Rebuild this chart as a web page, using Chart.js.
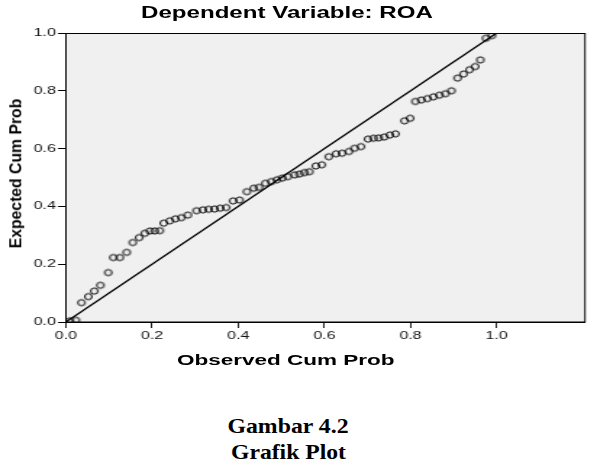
<!DOCTYPE html>
<html>
<head>
<meta charset="utf-8">
<script src="https://cdn.jsdelivr.net/npm/chart.js@4.4.1/dist/chart.umd.min.js"></script>
<style>
    body { margin: 0; background: #fff; }
    #wrap { position: relative; width: 597px; height: 476px; overflow: hidden; background: #fff; }
    #stretch { position: absolute; left: 0; top: 0; width: 412px; height: 390px; transform-origin: 0 0; }
    .lbl { position: absolute; white-space: nowrap; line-height: 1; color: #000; transform-origin: 50% 50%; }
    .sans { font-family: 'Liberation Sans', Arial, sans-serif; font-weight: bold; }
    .serif { font-family: 'Liberation Serif', 'Times New Roman', serif; font-weight: bold; }
</style>
</head>
<body>
<div id="wrap">
    <div id="stretch"><canvas id="ppChart" width="412" height="390" style="width:412px;height:390px"></canvas></div>
    <div class="lbl sans" id="chartTitle" style="font-size:16.5px">Dependent Variable: ROA</div>
    <div class="lbl sans" id="xTitle" style="font-size:14px">Observed Cum Prob</div>
    <div class="lbl sans" id="yTitle" style="font-size:17px">Expected Cum Prob</div>
    <div class="lbl serif" id="caption1" style="font-size:22px">Gambar 4.2</div>
    <div class="lbl serif" id="caption2" style="font-size:22px">Grafik Plot</div>
</div>
<script>
// values
const observedCumProb = [0.009, 0.023, 0.036, 0.052, 0.066, 0.080, 0.098, 0.110, 0.125, 0.141,
    0.155, 0.170, 0.183, 0.195, 0.206, 0.218, 0.227, 0.241, 0.254, 0.268,
    0.283, 0.303, 0.318, 0.331, 0.345, 0.358, 0.372, 0.388, 0.403, 0.420,
    0.436, 0.448, 0.463, 0.477, 0.490, 0.502, 0.515, 0.531, 0.542, 0.554,
    0.565, 0.580, 0.594, 0.610, 0.627, 0.641, 0.657, 0.670, 0.685, 0.701,
    0.714, 0.726, 0.739, 0.752, 0.765, 0.786, 0.799, 0.811, 0.825, 0.839,
    0.853, 0.867, 0.881, 0.895, 0.909, 0.923, 0.937, 0.950, 0.962, 0.975, 0.989];
const expectedCumProb = [0.004, 0.006, 0.067, 0.088, 0.107, 0.127, 0.171, 0.223, 0.223, 0.241,
    0.275, 0.292, 0.307, 0.315, 0.315, 0.316, 0.342, 0.350, 0.357, 0.361,
    0.370, 0.385, 0.388, 0.390, 0.391, 0.394, 0.396, 0.419, 0.422, 0.451,
    0.463, 0.466, 0.480, 0.486, 0.492, 0.498, 0.503, 0.509, 0.512, 0.517,
    0.520, 0.540, 0.544, 0.572, 0.582, 0.584, 0.590, 0.601, 0.607, 0.633,
    0.636, 0.637, 0.640, 0.647, 0.651, 0.696, 0.705, 0.763, 0.768, 0.773,
    0.779, 0.785, 0.790, 0.800, 0.844, 0.858, 0.873, 0.884, 0.907, 0.982, 0.991];
const diagonalX = [0, 1];
const diagonalY = [0, 1];
const xTicks = [0, 0.2, 0.4, 0.6, 0.8, 1.0];
const yTicks = [0, 0.2, 0.4, 0.6, 0.8, 1.0];

// the source picture is stretched sideways, so the canvas is too
const STRETCH = 597 / 412;
document.getElementById('stretch').style.transform = 'scaleX(' + STRETCH + ')';

// open circle that ends up roughly round after the stretch
function ringImage() {
    const c = document.createElement('canvas');
    c.width = 8;
    c.height = 10;
    const g = c.getContext('2d');
    g.strokeStyle = '#000';
    g.lineWidth = 1.0;
    g.beginPath();
    g.ellipse(4, 5, 2.45, 3.15, 0, 0, Math.PI * 2);
    g.stroke();
    return c;
}

const plotFrame = {
    id: 'plotFrame',
    beforeDatasetsDraw(chart) {
        const a = chart.chartArea;
        const ctx = chart.ctx;
        ctx.save();
        ctx.fillStyle = '#f0f0f0';
        ctx.fillRect(a.left, a.top, a.right - a.left, a.bottom - a.top);
        ctx.restore();
    },
    afterDraw(chart) {
        const a = chart.chartArea;
        const ctx = chart.ctx;
        ctx.save();
        ctx.strokeStyle = '#000';
        ctx.lineWidth = 1;
        ctx.strokeRect(a.left, Math.round(a.top) + 0.5, a.right - a.left, a.bottom - Math.round(a.top) - 0.5);
        ctx.restore();
    }
};

function PPChart() {
    const ctx = document.getElementById('ppChart').getContext('2d');

    const data = {
        datasets: [
            {
                type: 'scatter',
                label: 'Residuals',
                data: observedCumProb.map((x, i) => ({ x: x, y: expectedCumProb[i] })),
                pointStyle: ringImage(),
                pointRadius: 4,
                pointHoverRadius: 4
            },
            {
                type: 'scatter',
                label: 'Diagonal',
                data: diagonalX.map((x, i) => ({ x: x, y: diagonalY[i] })),
                showLine: true,
                borderColor: '#000',
                borderWidth: 1.3,
                pointRadius: 0
            }
        ]
    };

    const tickFont = { family: "'Liberation Sans', Arial, sans-serif", size: 11 };

    const options = {
        responsive: false,
        animation: false,
        devicePixelRatio: 1,
        layout: { padding: { left: 0, right: 8.3, top: 33, bottom: 0 } },
        plugins: { legend: { display: false }, tooltip: { enabled: false }, title: { display: false } },
        scales: {
            x: {
                type: 'linear',
                min: 0,
                max: 1.205,
                afterBuildTicks: s => { s.ticks = xTicks.map(v => ({ value: v })); },
                afterFit: s => { s.height = 68; },
                ticks: { font: tickFont, color: '#111', padding: 1, maxRotation: 0,
                    callback: v => v.toFixed(1) },
                grid: { drawOnChartArea: false, drawTicks: true, tickLength: 6, color: '#222' },
                border: { display: true, color: '#000', width: 1 }
            },
            y: {
                type: 'linear',
                min: 0,
                max: 1,
                afterBuildTicks: s => { s.ticks = yTicks.map(v => ({ value: v })); },
                afterFit: s => { s.width = 45.5; },
                ticks: { font: tickFont, color: '#111', padding: 1.5,
                    callback: v => v.toFixed(1) },
                grid: { drawOnChartArea: false, drawTicks: true, tickLength: 5.5, color: '#000' },
                border: { display: true, color: '#000', width: 1 }
            }
        }
    };

    return new Chart(ctx, { type: 'scatter', data: data, options: options, plugins: [plotFrame] });
}

// place the html labels: centre point and length along the text
function placeLabel(id, cx, cy, length, rotated) {
    const el = document.getElementById(id);
    const w = el.offsetWidth;
    const h = el.offsetHeight;
    el.style.left = (cx - w / 2) + 'px';
    el.style.top = (cy - h / 2) + 'px';
    el.style.transform = (rotated ? 'rotate(-90deg) ' : '') + 'scaleX(' + (length / w) + ')';
}

PPChart();
placeLabel('chartTitle', 287, 12, 292, false);
placeLabel('xTitle', 285, 360, 217, false);
placeLabel('yTitle', 16, 173, 150, true);
placeLabel('caption1', 288, 426, 121, false);
placeLabel('caption2', 288, 452, 115, false);
</script>
</body>
</html>
